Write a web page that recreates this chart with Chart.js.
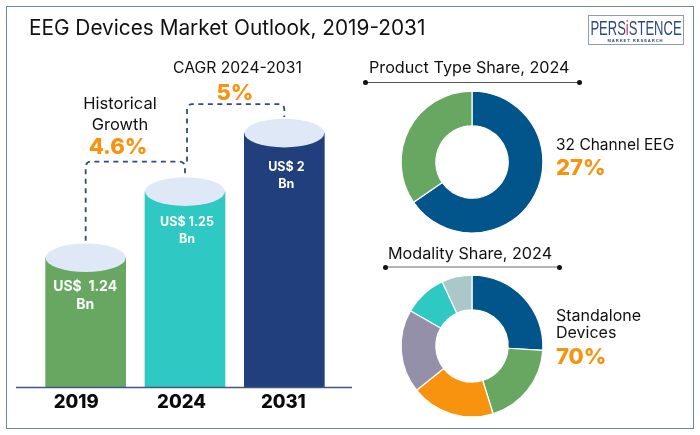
<!DOCTYPE html>
<html>
<head>
<meta charset="utf-8">
<script src="https://cdn.jsdelivr.net/npm/chart.js@4"></script>
<style>
html,body{margin:0;padding:0;background:#fff;overflow:hidden}
#page{position:relative;width:700px;height:435px;font-family:Inter,"Open Sans",sans-serif;color:#111}
#frame{position:absolute;left:6px;top:6px;width:686px;height:421px;border:1.5px solid #6f83ab;box-sizing:content-box}
canvas{position:absolute}
.t{position:absolute;white-space:nowrap;line-height:1}
.c{transform:translateX(-50%)}
.big{font-weight:800;font-size:22px;color:#f7930f}
.rule{position:absolute}
.dot{position:absolute;width:5px;height:5px;border-radius:50%;background:#111}
#logo{position:absolute;left:588px;top:15px;width:94px;height:28px;border:1px solid #8d9cbc;background:#fff}
</style>
</head>
<body>
<div id="page">
<div id="frame"></div>
<canvas id="bars" width="700" height="435" style="left:0;top:0;width:700px;height:435px"></canvas>
<canvas id="d1" width="150" height="150" style="left:397px;top:86.5px;width:150px;height:150px"></canvas>
<canvas id="d2" width="150" height="150" style="left:397px;top:270.5px;width:150px;height:150px"></canvas>

<div class="t" style="left:29px;top:18px;font-size:20.8px">EEG Devices Market Outlook, 2019-2031</div>
<div class="t" style="left:173px;top:60px;font-size:15.7px">CAGR 2024-2031</div>
<div class="t c big" style="left:235px;top:81px">5%</div>
<div class="t c" style="left:120px;top:95px;font-size:16.5px">Historical</div>
<div class="t c" style="left:120px;top:116px;font-size:16.5px">Growth</div>
<div class="t c big" style="left:118px;top:135px">4.6%</div>

<div class="t" style="left:369px;top:59px;font-size:16.2px">Product Type Share, 2024</div>
<div class="rule" style="left:365px;top:81.5px;width:214px;height:1px;background:#555"></div>
<div class="dot" style="left:363px;top:80px"></div><div class="dot" style="left:577px;top:80px"></div>

<div class="t" style="left:388px;top:245px;font-size:16.2px">Modality Share, 2024</div>
<div class="rule" style="left:385px;top:266px;width:174px;height:2px;background:#b5b5b5"></div>
<div class="dot" style="left:383px;top:264.5px"></div><div class="dot" style="left:557px;top:264.5px"></div>

<div class="t" style="left:556px;top:137px;font-size:15.5px">32 Channel EEG</div>
<div class="t big" style="left:556px;top:156px">27%</div>
<div class="t" style="left:556px;top:307px;font-size:16px">Standalone</div>
<div class="t" style="left:556px;top:324px;font-size:16px">Devices</div>
<div class="t big" style="left:556px;top:345px">70%</div>

<div id="logo"></div>
<div class="t" style="left:635.5px;top:17px;transform:translateX(-50%) scaleX(.62);font-family:'Liberation Sans',sans-serif;font-size:21px;color:#2c4a80">PERS<span style="color:#c8323c">i</span>STENCE</div>
<div class="t c" style="left:635.5px;top:38.5px;font-family:'Liberation Sans',sans-serif;font-size:4.2px;font-weight:700;color:#2c4a80;letter-spacing:.9px;background:#fff;padding:0 2px">MARKET RESEARCH</div>
</div>

<script>
const years = ['2019', '2024', '2031'];
const drawnBarHeights = [1.02, 1.54, 2.0];
const barColors = ['#68a762', '#2fc9c3', '#213f7c'];
const barLabels = [['US$  1.24', 'Bn'], ['US$ 1.25', 'Bn'], ['US$ 2', 'Bn']];
const productTypes = ['Others', '32 Channel EEG'];
const productShares = [65.4, 34.6];
const productColors = ['#02558b', '#68a762'];
const modalities = ['Standalone Devices', 'B', 'C', 'D', 'E', 'F'];
const modalityShares = [26, 19.2, 19.1, 19, 9.8, 6.9];
const modalityColors = ['#02558b', '#68a762', '#f7930f', '#9490a9', '#2fc9c3', '#abc8c9'];

Chart.defaults.animation = false;
Chart.defaults.responsive = false;
Chart.defaults.devicePixelRatio = 1;

const labelStyle = [
  { size: 14, dx: -0.5, dy: 29, gap: 18 },
  { size: 12.5, dx: 2, dy: 31, gap: 17 },
  { size: 12.5, dx: 2, dy: 34, gap: 17 }
];
const tickShift = [-9.5, -3.5, -1];

const cylinderPlugin = {
  id: 'cylinder',
  afterDatasetsDraw(chart) {
    const ctx = chart.ctx;
    const els = chart.getDatasetMeta(0).data;
    const base = chart.scales.y.getPixelForValue(0);
    ctx.save();
    // baseline
    ctx.strokeStyle = '#3f5687';
    ctx.lineWidth = 1.6;
    ctx.beginPath();
    ctx.moveTo(16, base);
    ctx.lineTo(352, base);
    ctx.stroke();
    // cylinder tops
    els.forEach(el => {
      ctx.fillStyle = '#dfe8f7';
      ctx.beginPath();
      ctx.ellipse(el.x, el.y, 40, 14.3, 0, 0, Math.PI * 2);
      ctx.fill();
    });
    // value labels
    ctx.fillStyle = '#fff';
    ctx.textAlign = 'center';
    ctx.textBaseline = 'middle';
    els.forEach((el, i) => {
      const s = labelStyle[i];
      ctx.font = '700 ' + s.size + 'px Inter';
      barLabels[i].forEach((line, j) => ctx.fillText(line, el.x + s.dx, el.y + s.dy + j * s.gap));
    });
    // category labels
    ctx.fillStyle = '#0a0a0a';
    ctx.font = '800 18.5px Inter';
    years.forEach((y, i) => ctx.fillText(y, chart.scales.x.getPixelForTick(i) + tickShift[i], base + 15));
    // dashed connectors
    ctx.strokeStyle = '#2f4a80';
    ctx.lineWidth = 1.8;
    ctx.setLineDash([5, 4.5]);
    const [a, b, c] = els;
    ctx.beginPath();
    ctx.moveTo(a.x, a.y - 17);
    ctx.lineTo(a.x, b.y - 25);
    ctx.arcTo(a.x, b.y - 30, a.x + 5, b.y - 30, 5);
    ctx.lineTo(b.x - 5, b.y - 30);
    ctx.arcTo(b.x, b.y - 30, b.x, b.y - 25, 5);
    ctx.lineTo(b.x, b.y - 17);
    ctx.stroke();
    ctx.beginPath();
    ctx.moveTo(b.x + 2, b.y - 30);
    ctx.lineTo(b.x + 2, c.y - 24);
    ctx.arcTo(b.x + 2, c.y - 29, b.x + 7, c.y - 29, 5);
    ctx.lineTo(c.x - 5, c.y - 29);
    ctx.arcTo(c.x, c.y - 29, c.x, c.y - 24, 5);
    ctx.lineTo(c.x, c.y - 16);
    ctx.stroke();
    ctx.restore();
  }
};

new Chart(document.getElementById('bars'), {
  type: 'bar',
  data: { labels: years, datasets: [{ data: drawnBarHeights, backgroundColor: barColors, barThickness: 80 }] },
  options: {
    layout: { padding: { left: 36, right: 366, top: 69.5, bottom: 47.5 } },
    plugins: { legend: { display: false }, tooltip: { enabled: false } },
    scales: {
      y: { display: false, min: 0, max: 2.5 },
      x: {
        border: { display: false },
        grid: { display: false, drawTicks: false },
        ticks: { display: false }
      }
    }
  },
  plugins: [cylinderPlugin]
});

function donut(id, labels, data, colors) {
  new Chart(document.getElementById(id), {
    type: 'doughnut',
    data: { labels, datasets: [{ data, backgroundColor: colors, borderColor: '#fff', borderWidth: 1.2 }] },
    options: {
      cutout: '51%',
      layout: { padding: 3.5 },
      plugins: { legend: { display: false }, tooltip: { enabled: false } }
    }
  });
}
donut('d1', productTypes, productShares, productColors);
donut('d2', modalities, modalityShares, modalityColors);
</script>
</body>
</html>
